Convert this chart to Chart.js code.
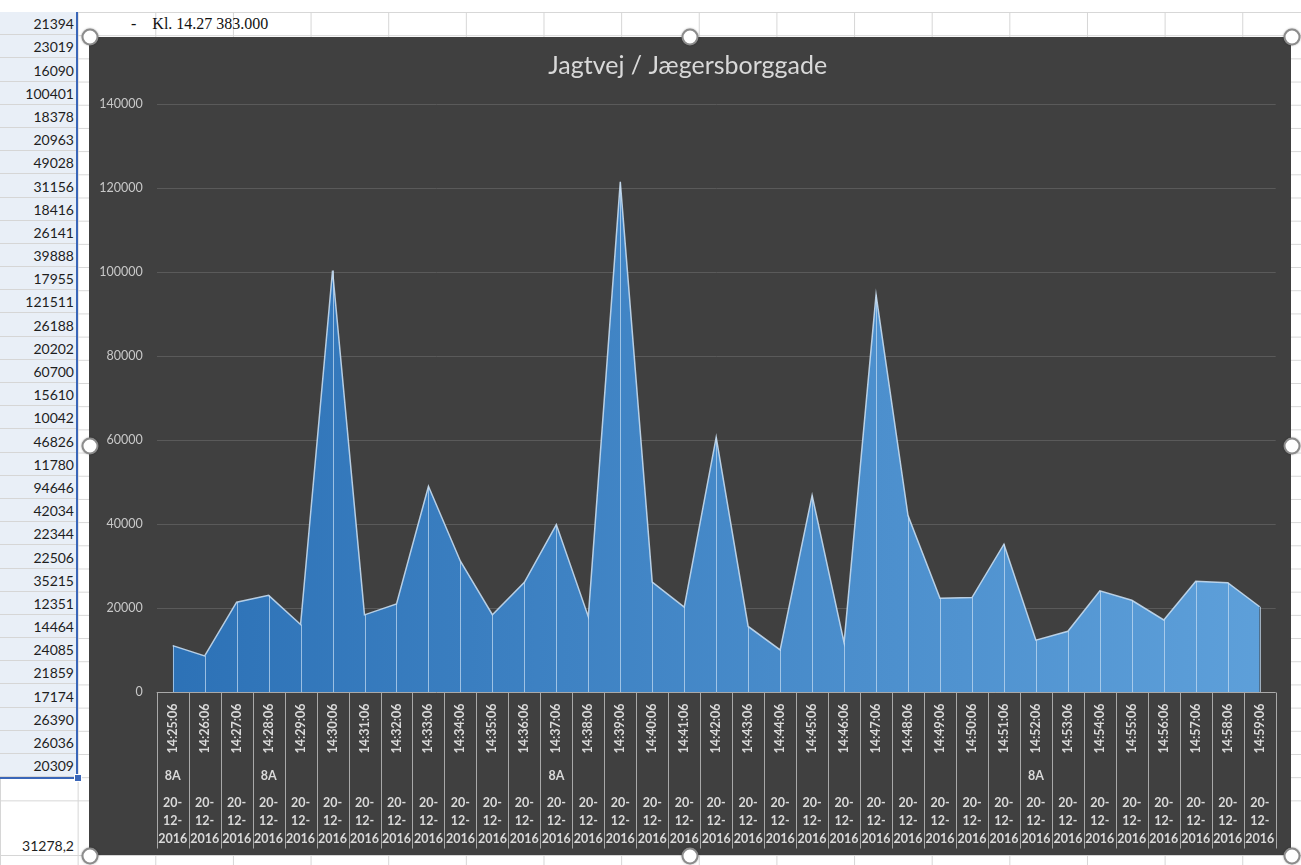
<!DOCTYPE html>
<html lang="da">
<head>
<meta charset="UTF-8">
<title>Jagtvej / Jægersborggade</title>
<script src="https://cdn.jsdelivr.net/npm/chart.js"></script>
<style>
  html, body { margin: 0; padding: 0; background: #fff; }
  body { width: 1301px; height: 865px; position: relative; overflow: hidden; font-family: Lato, "Noto Sans", sans-serif; }
  .vgrid { position: absolute; left: 0; top: 12px; width: 1301px; height: 853px;
    background-image: linear-gradient(to right, #d6d6d6 1px, transparent 1px);
    background-size: 77.65px 100%; }
  .hgrid { position: absolute; left: 0; top: 12px; width: 1301px; height: 791px;
    background-image: linear-gradient(to bottom, #d6d6d6 1px, transparent 1px);
    background-size: 100% 23.2px; }
  .hline { position: absolute; left: 0; width: 1301px; height: 1px; background: #d6d6d6; }
  #colA { position: absolute; left: 0; top: 12px; width: 77px; }
  #colA div { height: 23.2px; box-sizing: border-box; display: flex; align-items: flex-end; justify-content: flex-end;
    padding: 0 3px 2px 0; font-size: 14px; color: #1e1e1e; background: #e9eff7; border-bottom: 1px solid #d6d6d6; }
  #sel { position: absolute; left: 0; top: 12px; width: 76px; height: 765px; border-right: 2px solid #3a66b8; border-bottom: 2px solid #3a66b8; }
  #fill { position: absolute; left: 74px; top: 774px; width: 6px; height: 6px; background: #3a66b8; border: 1px solid #fff; }
  #note { position: absolute; left: 131px; top: 15px; font-family: "Liberation Serif", serif; font-size: 16px; color: #111; white-space: pre; }
  #avg { position: absolute; left: 0; top: 837px; width: 74px; text-align: right; font-size: 14px; color: #1e1e1e; }
  #chartBox { position: absolute; left: 89px; top: 37px; width: 1202px; height: 818px; background: #404040; }
  .handle { position: absolute; width: 13px; height: 13px; border-radius: 50%; background: #fff; border: 2.5px solid #8c8c8c;
    box-shadow: 0 0 2px rgba(0,0,0,0.35); transform: translate(-50%, -50%); }
</style>
</head>
<body>
<div class="vgrid"></div>
<div class="hgrid"></div>
<div class="hline" style="top:855px"></div>
<div id="colA"></div>
<div id="sel"></div>
<div id="fill"></div>
<div id="note">-    Kl. 14.27 383.000</div>
<div id="avg"></div>

<div id="chartBox">
  <canvas id="areaChart" width="1202" height="818"></canvas>
</div>

<div class="handle" style="left:90px;top:37px"></div>
<div class="handle" style="left:690px;top:37px"></div>
<div class="handle" style="left:1292px;top:37px"></div>
<div class="handle" style="left:90px;top:446px"></div>
<div class="handle" style="left:1292px;top:446px"></div>
<div class="handle" style="left:90px;top:856px"></div>
<div class="handle" style="left:690px;top:856px"></div>
<div class="handle" style="left:1292px;top:856px"></div>

<script>
    const times = ['14:25:06', '14:26:06', '14:27:06', '14:28:06', '14:29:06', '14:30:06', '14:31:06',
        '14:32:06', '14:33:06', '14:34:06', '14:35:06', '14:36:06', '14:37:06', '14:38:06', '14:39:06',
        '14:40:06', '14:41:06', '14:42:06', '14:43:06', '14:44:06', '14:45:06', '14:46:06', '14:47:06',
        '14:48:06', '14:49:06', '14:50:06', '14:51:06', '14:52:06', '14:53:06', '14:54:06', '14:55:06',
        '14:56:06', '14:57:06', '14:58:06', '14:59:06'];
    const groups = ['8A', '', '', '8A', '', '', '', '', '', '', '', '', '8A', '', '', '', '', '', '', '', '',
        '', '', '', '', '', '', '8A', '', '', '', '', '', '', ''];
    const dates = times.map(() => '20-12-2016');
    const values = [11050, 8586, 21394, 23019, 16090, 100401, 18378, 20963, 49028, 31156, 18416, 26141,
        39888, 17955, 121511, 26188, 20202, 60700, 15610, 10042, 46826, 11780, 94646, 42034, 22344,
        22506, 35215, 12351, 14464, 24085, 21859, 17174, 26390, 26036, 20309];

    // spreadsheet column next to the chart (first two rows are scrolled away)
    const colA = document.getElementById('colA');
    values.slice(2).forEach(v => {
        const cell = document.createElement('div');
        cell.textContent = v;
        colA.appendChild(cell);
    });
    const avg = values.reduce((a, b) => a + b, 0) / values.length;
    document.getElementById('avg').textContent = avg.toFixed(1).replace('.', ',');

    const labelColor = '#d9d9d9';

    // vertical lines from each point down to the axis
    const dropLines = {
        id: 'dropLines',
        afterDatasetsDraw(chart) {
            const { ctx, scales: { y } } = chart;
            const base = y.getPixelForValue(0);
            ctx.save();
            ctx.strokeStyle = 'rgba(200,222,244,0.7)';
            ctx.lineWidth = 1;
            chart.getDatasetMeta(0).data.forEach(pt => {
                const px = Math.round(pt.x) + 0.5;
                ctx.beginPath();
                ctx.moveTo(px, pt.y);
                ctx.lineTo(px, base);
                ctx.stroke();
            });
            ctx.restore();
        }
    };

    // multi-level category axis: time (rotated), group, date
    const categoryBoxes = {
        id: 'categoryBoxes',
        afterDraw(chart) {
            const { ctx, scales: { x }, chartArea } = chart;
            const half = (x.getPixelForValue(1) - x.getPixelForValue(0)) / 2;
            const top = Math.round(chartArea.bottom) + 0.5;
            const bottom = top + 156;
            ctx.save();
            ctx.strokeStyle = '#a9a9a9';
            ctx.lineWidth = 1;
            ctx.beginPath();
            ctx.moveTo(x.getPixelForValue(0) - half, top);
            ctx.lineTo(x.getPixelForValue(times.length - 1) + half, top);
            for (let i = 0; i <= times.length; i++) {
                const bx = Math.round(x.getPixelForValue(i) - half) + 0.5;
                ctx.moveTo(bx, top);
                ctx.lineTo(bx, bottom);
            }
            ctx.stroke();

            ctx.fillStyle = labelColor;
            ctx.font = 'bold 12.5px Lato, "Noto Sans", sans-serif';
            ctx.textAlign = 'center';
            ctx.textBaseline = 'middle';
            times.forEach((t, i) => {
                const cx = x.getPixelForValue(i);
                ctx.save();
                ctx.translate(cx, top + 36);
                ctx.rotate(-Math.PI / 2);
                ctx.fillText(t, 0, 0);
                ctx.restore();
                if (groups[i]) ctx.fillText(groups[i], cx, top + 83);
                const parts = dates[i].split('-');
                ctx.fillText(parts[0] + '-', cx, top + 110);
                ctx.fillText(parts[1] + '-', cx, top + 128);
                ctx.fillText(parts[2], cx, top + 146);
            });
            ctx.restore();
        }
    };

    const ctx = document.getElementById('areaChart').getContext('2d');

    const chart = new Chart(ctx, {
        type: 'line',
        data: {
            labels: times,
            datasets: [{
                data: values,
                fill: 'origin',
                tension: 0,
                pointRadius: 0,
                borderColor: 'rgba(205,226,246,0.85)',
                borderWidth: 1.5,
                backgroundColor: (c) => {
                    const area = c.chart.chartArea;
                    if (!area) return '#3f86c8';
                    const g = c.chart.ctx.createLinearGradient(area.left, 0, area.right, 0);
                    g.addColorStop(0, '#2c71b6');
                    g.addColorStop(1, '#5ea0da');
                    return g;
                }
            }]
        },
        options: {
            responsive: false,
            animation: false,
            layout: { padding: { left: 10.7, right: 15.3, top: 0, bottom: 5 } },
            plugins: {
                legend: { display: false },
                tooltip: { enabled: false },
                title: {
                    display: true,
                    text: 'Jagtvej / Jægersborggade',
                    color: labelColor,
                    font: { family: 'Lato', size: 25, weight: 'normal', lineHeight: 1.2 },
                    padding: { top: 14.3, bottom: 23 }
                }
            },
            scales: {
                x: {
                    offset: true,
                    grid: { display: false },
                    border: { display: false },
                    ticks: { display: false },
                    afterFit: (s) => { s.height = 158; }
                },
                y: {
                    min: 0,
                    max: 140000,
                    grid: { color: '#5a5a5a', drawTicks: false },
                    border: { display: false },
                    ticks: {
                        stepSize: 20000,
                        color: '#c8c8c8',
                        padding: 14,
                        font: { family: 'Lato', size: 12.5 },
                        callback: (v) => String(v)
                    },
                    afterFit: (s) => { s.width = 57; }
                }
            }
        },
        plugins: [dropLines, categoryBoxes]
    });
</script>
</body>
</html>
